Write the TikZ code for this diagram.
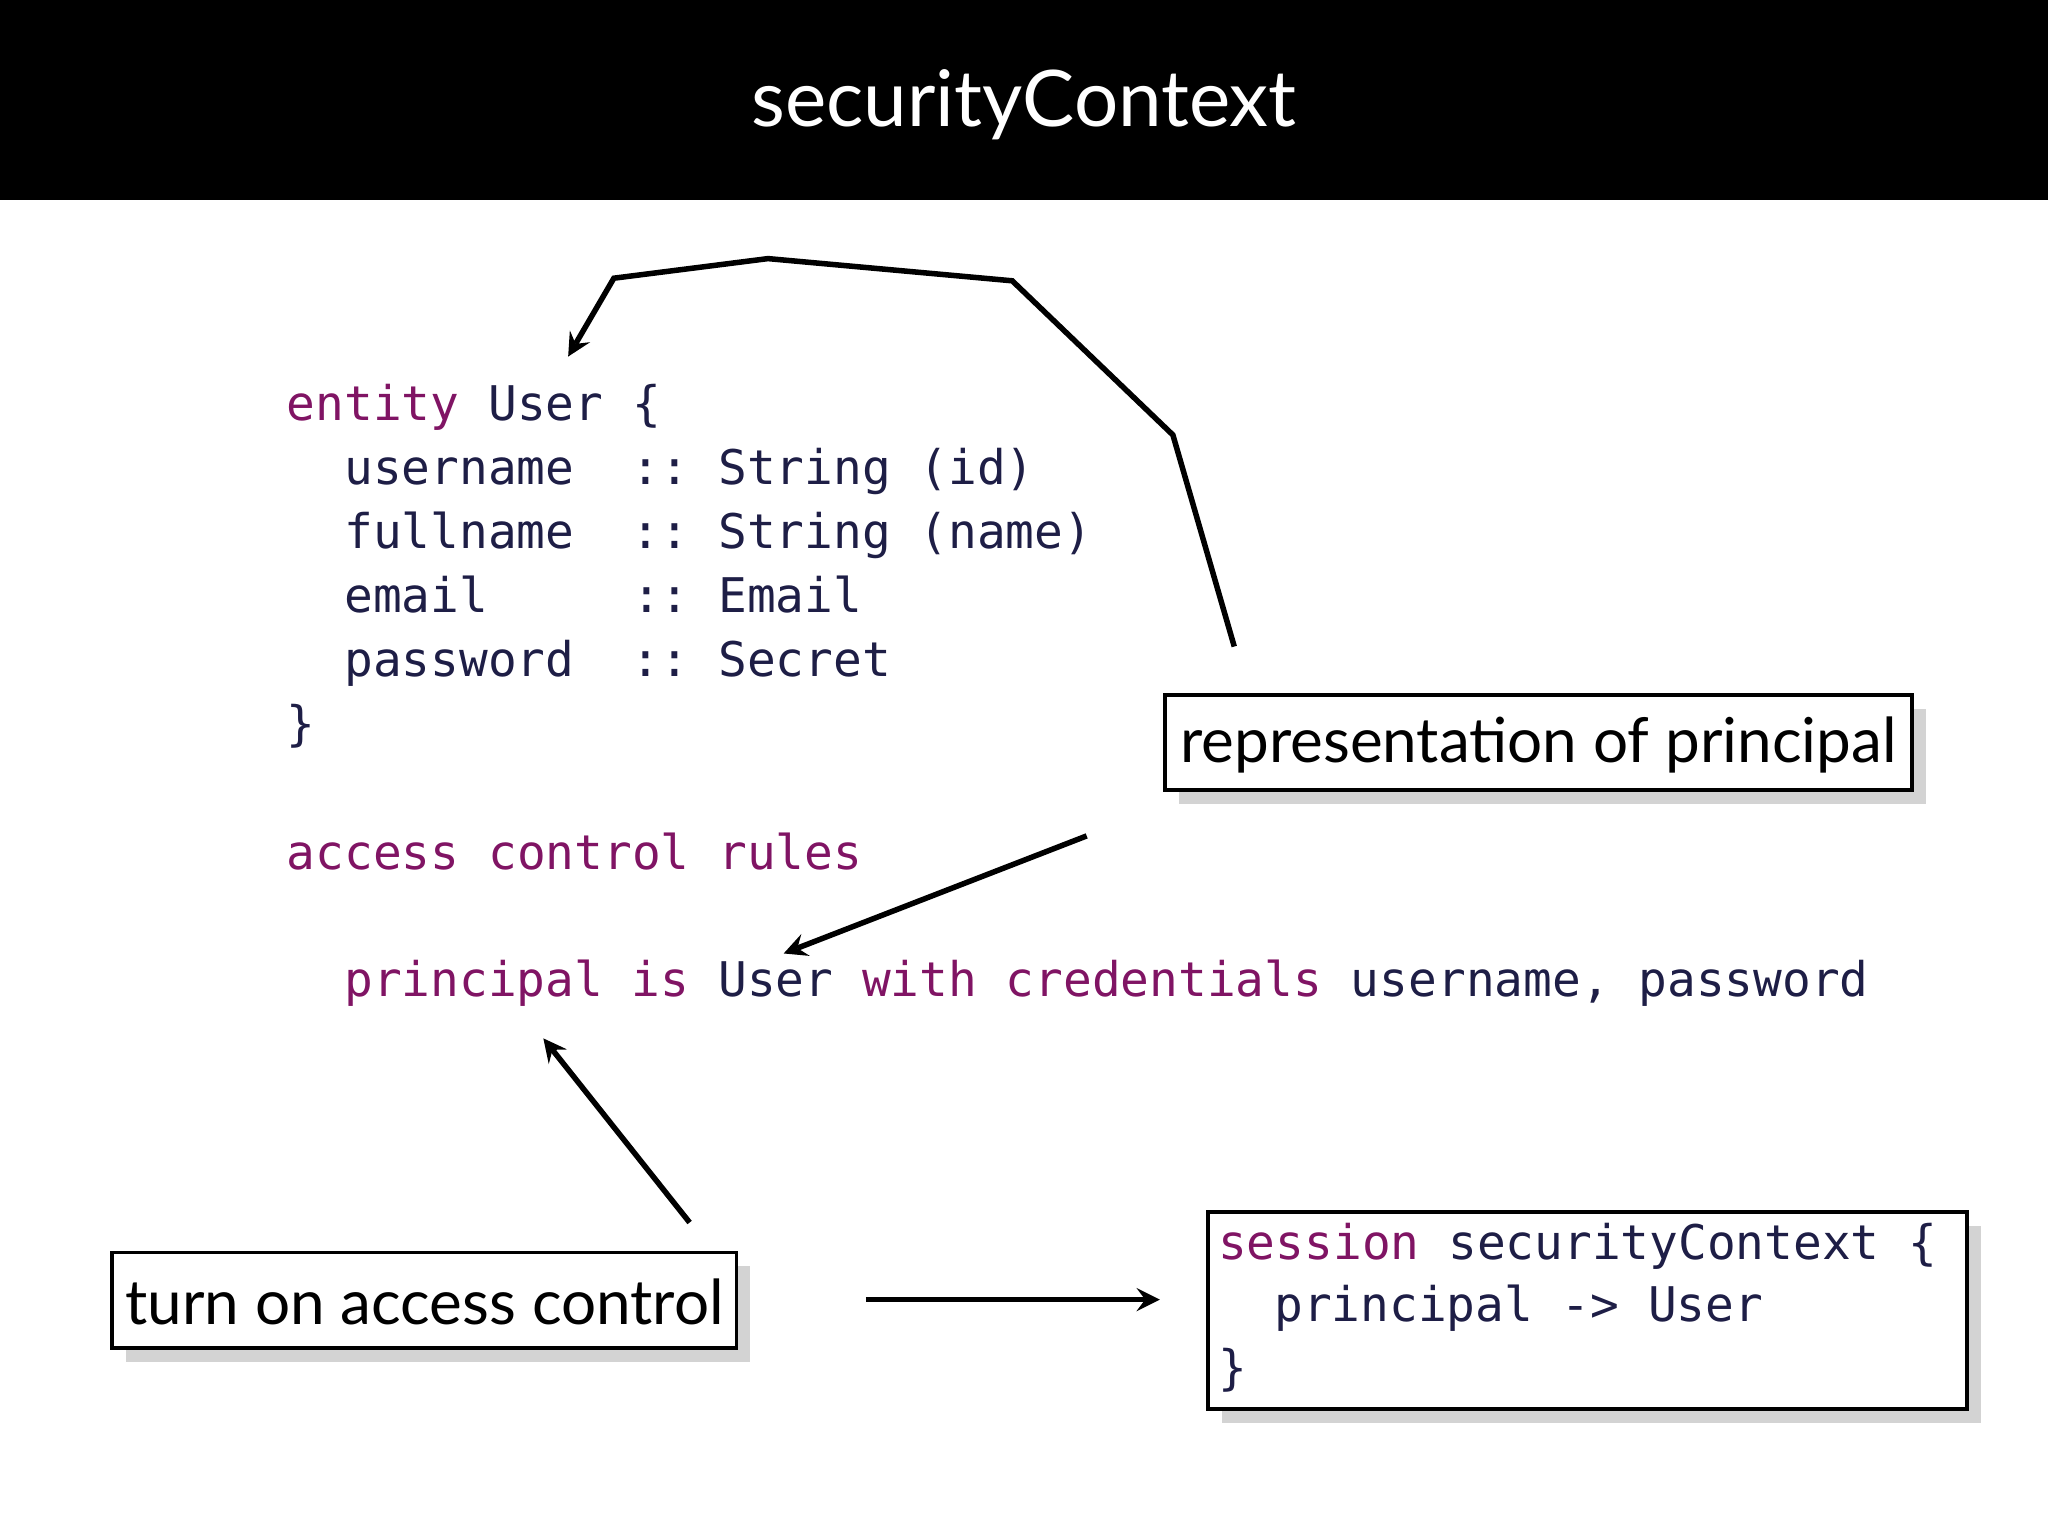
\documentclass[tikz,border=0pt]{standalone}
\usepackage{fontspec}
\setmainfont{Lato}
\newfontfamily\codefont{DejaVu Sans Mono}
\usetikzlibrary{shadows}
\definecolor{kw}{RGB}{128,20,100}
\definecolor{id}{RGB}{30,30,70}
\begin{document}
\begin{tikzpicture}[x=0.01cm,y=-0.01cm,
  code/.style={anchor=base west,inner sep=0pt,font=\codefont\fontsize{10.4}{12}\selectfont,text=id},
  box/.style={draw=black,fill=white,line width=0.8pt,drop shadow={shadow xshift=3pt,shadow yshift=-3pt,opacity=0.35}},
  lbl/.style={font=\fontsize{13.5}{15}\selectfont,inner sep=0pt},
  arr/.style={-stealth,line width=1.2pt}]
\useasboundingbox (0,0) rectangle (1568,1176);
\fill[black] (0,0) rectangle (1568,153);
\node[text=white,font=\fontsize{17}{20}\selectfont] (title) at (784,80) {securityContext};
\node[code] (l1) at (219,322) {\color{kw}entity\color{id}\ User\ \{};
\node[code] (l2) at (263,371) {username\ \ ::\ String\ (id)};
\node[code] (l3) at (263,420) {fullname\ \ ::\ String\ (name)};
\node[code] (l4) at (263,469) {email\ \ \ \ \ ::\ Email};
\node[code] (l5) at (263,518) {password\ \ ::\ Secret};
\node[code] (l6) at (219,567) {\}};
\node[code] (l7) at (219,666) {\color{kw}access\ control\ rules};
\node[code] (l8) at (263,763) {\color{kw}principal\ is\ \color{id}User\ \color{kw}with\ credentials\ \color{id}username,\ password};
\path[box] (892,532) rectangle (1464,605);
\node[lbl] (rep) at (1178,570) {representation of principal};
\path[box] (86,959) rectangle (564,1032);
\node[lbl] (turn) at (325,997) {turn on access control};
\path[box] (925,928) rectangle (1506,1079);
\node[code] (s1) at (932,964) {\color{kw}session\ \color{id}securityContext\ \{};
\node[code] (s2) at (975,1012) {principal\ ->\ User};
\node[code] (s3) at (932,1060) {\}};
\coordinate (a1s) at (945,495); \coordinate (a1e) at (435,273);
\draw[arr] (a1s) -- (898,333) -- (775,215) -- (588,198) -- (470,213) -- (a1e);
\coordinate (a2s) at (832,640); \coordinate (a2e) at (600,730);
\draw[arr] (a2s) -- (a2e);
\coordinate (a3s) at (528,936); \coordinate (a3e) at (416,795);
\draw[arr] (a3s) -- (a3e);
\coordinate (a4s) at (663,995); \coordinate (a4e) at (888,995);
\draw[arr] (a4s) -- (a4e);
\end{tikzpicture}
\end{document}
